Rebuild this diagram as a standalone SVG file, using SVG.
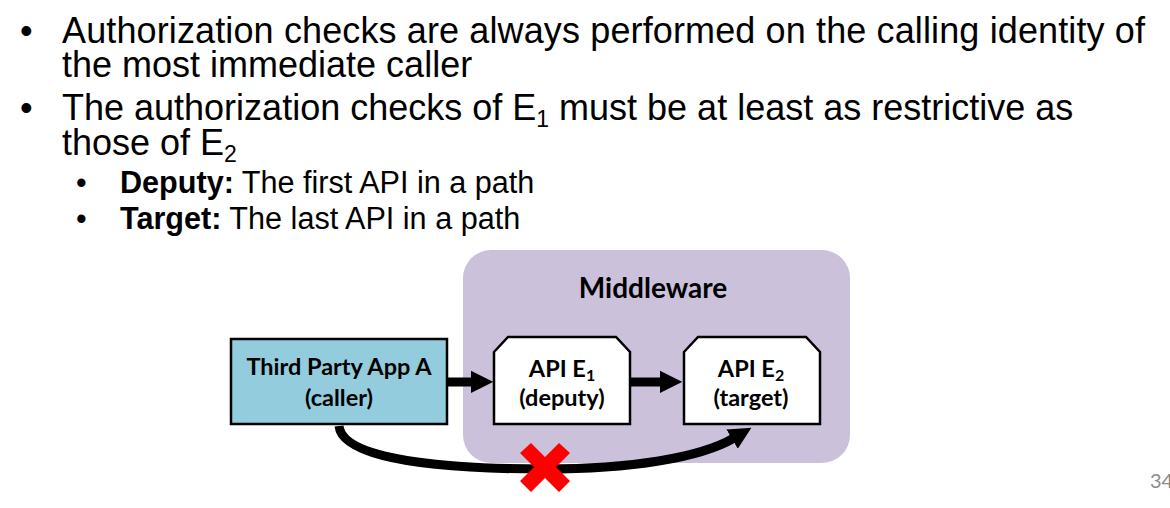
<svg xmlns="http://www.w3.org/2000/svg" width="1170" height="508" viewBox="0 0 1170 508">
<defs>
<style>
.body{font-family:"Liberation Sans",Arial,sans-serif;fill:#000;}
.l1{font-size:36px;}
.l2{font-size:30.6px;}
.lbl{font-family:Lato,"Open Sans",sans-serif;font-weight:bold;font-size:23.5px;fill:#000;text-anchor:middle;}
.title{font-size:28px;}
.box{stroke:#000;stroke-width:2.5;}
.conn{stroke:#000;stroke-width:9;fill:none;}
</style>
<marker id="ah" viewBox="0 0 10 10" refX="1" refY="5" markerWidth="2.5" markerHeight="2.6" markerUnits="strokeWidth" orient="auto">
<path d="M0,0 L10,5 L0,10 z" fill="#000"/>
</marker>
</defs>
<rect width="1170" height="508" fill="#fff"/>

<g id="bullets" class="body">
<text class="l1" x="20" y="43">•</text>
<text class="l1" x="62" y="43" textLength="1083" lengthAdjust="spacing">Authorization checks are always performed on the calling identity of</text>
<text class="l1" x="62" y="77">the most immediate caller</text>
<text class="l1" x="20" y="120">•</text>
<text class="l1" x="62" y="120">The authorization checks of E<tspan font-size="23" dy="7">1</tspan><tspan dy="-7"> must be at least as restrictive as</tspan></text>
<text class="l1" x="62" y="155">those of E<tspan font-size="23" dy="7">2</tspan></text>
<text class="l2" x="76" y="193">•</text>
<text class="l2" x="120" y="193"><tspan font-weight="bold">Deputy:</tspan> The first API in a path</text>
<text class="l2" x="76" y="229">•</text>
<text class="l2" x="120" y="229"><tspan font-weight="bold">Target:</tspan> The last API in a path</text>
</g>

<g id="middleware">
<rect x="463" y="250" width="387" height="213" rx="28" ry="28" fill="#CCC1DA"/>
<text class="lbl title" x="653" y="298">Middleware</text>
</g>

<g id="appA">
<rect class="box" x="231" y="339" width="216" height="85" fill="#93CDDD"/>
<text class="lbl" x="339" y="375">Third Party App A</text>
<text class="lbl" x="339" y="406">(caller)</text>
</g>

<g id="apiE1">
<path class="box" d="M494,352 L508,337 L616,337 L630,352 L630,424 L494,424 Z" fill="#fff"/>
<text class="lbl" x="562" y="377">API E<tspan font-size="16" dy="4">1</tspan></text>
<text class="lbl" x="562" y="406">(deputy)</text>
</g>

<g id="apiE2">
<path class="box" d="M684,352 L698,337 L806,337 L820,352 L820,424 L684,424 Z" fill="#fff"/>
<text class="lbl" x="751" y="377">API E<tspan font-size="16" dy="4">2</tspan></text>
<text class="lbl" x="751" y="406">(target)</text>
</g>

<g id="connectors">
<line class="conn" x1="448" y1="382" x2="473" y2="382" marker-end="url(#ah)"/>
<line class="conn" x1="631" y1="382" x2="662" y2="382" marker-end="url(#ah)"/>
<path class="conn" d="M339,426 C343,464 470,469 545,469 C630,469 700,458 734,438" marker-end="url(#ah)"/>
</g>

<g id="cross" fill="#FF0000">
<path d="M520,453 L531,443 L545,457 L559,443 L570,453 L556,467 L570,481 L559,492 L545,478 L531,492 L520,481 L534,467 Z"/>
</g>

<text x="1150" y="488" font-family="Lato,'Open Sans',sans-serif" font-size="20" fill="#8C8C8C">34</text>
</svg>
